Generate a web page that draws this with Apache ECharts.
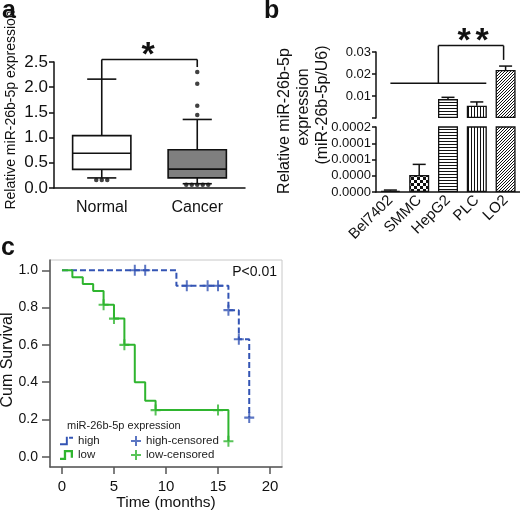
<!DOCTYPE html>
<html>
<head>
<meta charset="utf-8">
<script src="https://cdn.jsdelivr.net/npm/echarts@6.0.0/dist/echarts.min.js"></script>
<style>
html,body{margin:0;padding:0;background:#fff;}
#chart{width:520px;height:516px;}
</style>
</head>
<body>
<div id="chart"></div>
<script>
// ---------------- Panel a : box plot ----------------
const boxCategories = ['Normal', 'Cancer'];
// [lower whisker, Q1, median, Q3, upper whisker]
const normalBox = [0.20, 0.37, 0.69, 1.04, 2.16];
const cancerBox = [0.085, 0.20, 0.375, 0.76, 1.36];
const normalOutliers = [0.16, 0.16, 0.16];
const cancerOutliers = [2.30, 2.07, 1.63, 1.45, 0.065, 0.065, 0.065, 0.065, 0.065];
// significance bracket: top, left leg end, right leg end
const sigA = [2.55, 2.16, 2.40];

// ---------------- Panel b : bar chart with broken axis ----------------
const cellLines = ['Bel7402', 'SMMC', 'HepG2', 'PLC', 'LO2'];
const cellMeans = [0.000004, 0.000052, 0.0086, 0.0056, 0.0218];
const cellErrors = [0.000002, 0.000033, 0.0008, 0.0017, 0.0018];
const upperTickLabels = ['', '0.01', '0.02', '0.03'];
const lowerTickLabels = ['0.0000', '0.0000', '0.0001', '0.0001', '0.0002'];
// group line value, bracket top, LO2 leg end
const sigB = [0.0158, 0.0329, 0.0264];

// ---------------- Panel c : Kaplan-Meier ----------------
const highCurve = [[0, 1], [11, 0.917], [16, 0.786], [17, 0.63], [18, 0.21]];
const lowCurve = [[0, 1], [1, 0.963], [2, 0.926], [3, 0.889], [4, 0.815], [5, 0.741], [6, 0.6], [7, 0.4], [8, 0.3], [9, 0.25], [16, 0.083]];
const highCensored = [[7, 1], [8, 1], [12, 0.917], [14, 0.917], [15, 0.917], [16, 0.786], [17, 0.63], [18, 0.21]];
const lowCensored = [[4, 0.815], [5, 0.741], [6, 0.6], [9, 0.25], [15, 0.25], [16, 0.083]];
const timeTicks = [0, 5, 10, 15, 20];
const survivalTicks = [0, 0.2, 0.4, 0.6, 0.8, 1.0];

// ---------------- styling ----------------
const FONT = "'Liberation Sans', Arial, Helvetica, sans-serif";
const INK = '#111';
const BLUE = '#3354b4';
const GREEN = '#2fb52f';
const LOWER_MAX = 0.0002;
const boxFills = ['#ffffff', '#7f7f7f'];
const patternKinds = ['solid', 'check', 'h', 'v', 'd'];
const PLUS = 'path://M4,0h2v10h-2z M0,4h10v2h-10z';
const HIGH_ICON = 'path://M0,11h9v-10h3v13h-12z M14,1h6v3h-6z';
const LOW_ICON = 'path://M0,11h5v-10h12v10h-3v-7h-6v10h-8z';

function makePattern(kind) {
  if (kind === 'solid') return INK;
  const c = document.createElement('canvas');
  const ctx = c.getContext('2d');
  if (kind === 'check') {
    c.width = c.height = 6;
    ctx.fillStyle = '#fff'; ctx.fillRect(0, 0, 6, 6);
    ctx.fillStyle = INK; ctx.fillRect(0, 0, 3, 3); ctx.fillRect(3, 3, 3, 3);
  } else if (kind === 'h') {
    c.width = c.height = 3;
    ctx.fillStyle = '#fff'; ctx.fillRect(0, 0, 3, 3);
    ctx.fillStyle = INK; ctx.fillRect(0, 0, 3, 1);
  } else if (kind === 'v') {
    c.width = c.height = 3;
    ctx.fillStyle = '#fff'; ctx.fillRect(0, 0, 3, 3);
    ctx.fillStyle = INK; ctx.fillRect(0, 0, 1, 3);
  } else {
    c.width = c.height = 3;
    ctx.fillStyle = '#fff'; ctx.fillRect(0, 0, 3, 3);
    ctx.fillStyle = INK; ctx.fillRect(0, 2, 1, 1); ctx.fillRect(1, 1, 1, 1); ctx.fillRect(2, 0, 1, 1);
  }
  return { image: c, repeat: 'repeat' };
}

function txt(text, x, y, size, o) {
  o = o || {};
  const align = o.align || 'center', va = o.va || 'middle';
  return {
    type: 'text', x: x, y: y, rotation: o.rot || 0, z: 100,
    style: {
      text: text, fill: o.color || INK,
      font: (o.bold ? 'bold ' : '') + size + 'px ' + FONT,
      align: align, verticalAlign: va, textAlign: align, textVerticalAlign: va
    }
  };
}

// outlier points with horizontal spreading of identical values
function outlierPoints(cat, values) {
  const counts = {}, seen = {};
  values.forEach(v => { counts[v] = (counts[v] || 0) + 1; });
  return values.map(v => {
    const k = seen[v] = (seen[v] || 0) + 1;
    const n = counts[v];
    const off = (k - 1 - (n - 1) / 2) * 5.5;
    return { value: [cat, v], symbolOffset: [off, 0] };
  });
}

function line(x1, y1, x2, y2, w, color) {
  return { type: 'line', shape: { x1, y1, x2, y2 }, style: { stroke: color || INK, lineWidth: w || 1.5 } };
}

function boxItem(params, api) {
  const idx = api.value(0);
  const lo = api.value(1), q1 = api.value(2), med = api.value(3), q3 = api.value(4), hi = api.value(5);
  const band = api.size([1, 0])[0];
  const bw = band * 0.61, cw = bw * 0.5;
  const x = api.coord([idx, 0])[0];
  const y = v => api.coord([idx, v])[1];
  return {
    type: 'group', children: [
      line(x, y(q3), x, y(hi), 1.6),
      line(x - cw / 2, y(hi), x + cw / 2, y(hi), 1.6),
      line(x, y(q1), x, y(lo), 1.6),
      line(x - cw / 2, y(lo), x + cw / 2, y(lo), 1.6),
      { type: 'rect', shape: { x: x - bw / 2, y: y(q3), width: bw, height: y(q1) - y(q3) },
        style: { fill: boxFills[idx], stroke: INK, lineWidth: 1.6 } },
      line(x - bw / 2, y(med), x + bw / 2, y(med), 1.6)
    ]
  };
}

function errItem(section) {
  return function (params, api) {
    const i = api.value(0), m = api.value(1), e = api.value(2);
    if ((section === 'upper' && m <= LOWER_MAX) || (section === 'lower' && m > LOWER_MAX)) {
      return { type: 'group', children: [] };
    }
    const p0 = api.coord([i, m]), p1 = api.coord([i, m + e]);
    const hw = 6.5;
    return { type: 'group', children: [
      line(p0[0], p0[1], p1[0], p1[1], 1.5),
      line(p1[0] - hw, p1[1], p1[0] + hw, p1[1], 1.5)
    ] };
  };
}

const errData = cellMeans.map((m, i) => [i, m, cellErrors[i]]);
const axisBlack = { lineStyle: { color: INK, width: 1.5 } };

const option = {
  animation: false,
  backgroundColor: '#fff',
  grid: [
    { left: 54, top: 62, width: 191, height: 126, outerBoundsMode: 'none' },
    { left: 376, top: 52, width: 144, height: 66, outerBoundsMode: 'none' },
    { left: 376, top: 127, width: 144, height: 65, outerBoundsMode: 'none' },
    { left: 50, top: 260, width: 232, height: 207, outerBoundsMode: 'none',
      show: true, borderColor: '#c8c8c8', borderWidth: 1 }
  ],
  xAxis: [
    { gridIndex: 0, type: 'category', data: boxCategories,
      axisLine: axisBlack, axisTick: { alignWithLabel: true, length: 5, lineStyle: { color: INK, width: 1.5 } },
      axisLabel: { color: INK, fontSize: 16, fontFamily: FONT, margin: 12 } },
    { gridIndex: 1, type: 'category', data: cellLines, show: false },
    { gridIndex: 2, type: 'category', data: cellLines,
      axisLine: axisBlack, axisTick: { alignWithLabel: true, length: 4, lineStyle: { color: INK, width: 1.5 } },
      axisLabel: { color: INK, fontSize: 15, fontFamily: FONT, rotate: 45, margin: 6, interval: 0 } },
    { gridIndex: 3, type: 'value', min: -1.15, max: 21.15,
      axisLine: { onZero: false, lineStyle: { color: '#555', width: 1.5 } },
      axisTick: { customValues: timeTicks, length: 7, lineStyle: { color: '#555', width: 1.5 } },
      axisLabel: { customValues: timeTicks, color: INK, fontSize: 15, fontFamily: FONT, margin: 12 },
      splitLine: { show: false } }
  ],
  yAxis: [
    { gridIndex: 0, type: 'value', min: 0, max: 2.5, interval: 0.5,
      axisLine: { show: true, lineStyle: { color: INK, width: 1.5 } },
      axisTick: { show: true, length: 5, lineStyle: { color: INK, width: 1.5 } },
      axisLabel: { color: INK, fontSize: 17, fontFamily: FONT, margin: 6, formatter: v => v.toFixed(1) },
      splitLine: { show: false } },
    { gridIndex: 1, type: 'value', min: 0, max: 0.03, interval: 0.01,
      axisLine: { show: true, lineStyle: { color: INK, width: 1.5 } },
      axisTick: { show: true, length: 4, lineStyle: { color: INK, width: 1.5 } },
      axisLabel: { color: INK, fontSize: 13, fontFamily: FONT, margin: 5, formatter: (v, i) => upperTickLabels[i] },
      splitLine: { show: false } },
    { gridIndex: 2, type: 'value', min: 0, max: LOWER_MAX, interval: 0.00005,
      axisLine: { show: true, lineStyle: { color: INK, width: 1.5 } },
      axisTick: { show: true, length: 4, lineStyle: { color: INK, width: 1.5 } },
      axisLabel: { color: INK, fontSize: 13, fontFamily: FONT, margin: 5, formatter: (v, i) => lowerTickLabels[i] },
      splitLine: { show: false } },
    { gridIndex: 3, type: 'value', min: -0.055, max: 1.055,
      axisLine: { show: true, onZero: false, lineStyle: { color: '#555', width: 1.5 } },
      axisTick: { show: true, customValues: survivalTicks, length: 8, lineStyle: { color: '#555', width: 1.5 } },
      axisLabel: { customValues: survivalTicks, color: INK, fontSize: 14, fontFamily: FONT, margin: 12, formatter: v => v.toFixed(1) },
      splitLine: { show: false } }
  ],
  legend: [
    { left: 60, top: 435, orient: 'vertical', itemWidth: 13, itemHeight: 10, itemGap: 2, padding: 0,
      selectedMode: false, textStyle: { fontSize: 11.5, color: '#222', fontFamily: FONT },
      data: [ { name: 'high', icon: HIGH_ICON, itemStyle: { color: BLUE } },
              { name: 'low', icon: LOW_ICON, itemStyle: { color: GREEN } } ] },
    { left: 131, top: 435, orient: 'vertical', itemWidth: 10, itemHeight: 10, itemGap: 2, padding: 0,
      selectedMode: false, textStyle: { fontSize: 11.5, color: '#222', fontFamily: FONT },
      data: ['high-censored', 'low-censored'] }
  ],
  series: [
    // panel a
    { type: 'custom', xAxisIndex: 0, yAxisIndex: 0, renderItem: boxItem,
      encode: { x: 0, y: [1, 2, 3, 4, 5] },
      data: [[0].concat(normalBox), [1].concat(cancerBox)] },
    { type: 'scatter', xAxisIndex: 0, yAxisIndex: 0, symbol: 'circle', symbolSize: 4.5,
      itemStyle: { color: INK }, silent: true,
      data: outlierPoints(0, normalOutliers).concat(outlierPoints(1, cancerOutliers)) },
    { type: 'custom', xAxisIndex: 0, yAxisIndex: 0, encode: { x: 0, y: 2 },
      data: [[0, 1, sigA[0], sigA[1], sigA[2]]],
      renderItem: (params, api) => {
        const a = api.coord([api.value(0), api.value(2)]);
        const b = api.coord([api.value(1), api.value(2)]);
        const la = api.coord([api.value(0), api.value(3)]);
        const rb = api.coord([api.value(1), api.value(4)]);
        return { type: 'group', children: [
          line(a[0], la[1], a[0], a[1], 1.6), line(a[0], a[1], b[0], b[1], 1.6), line(b[0], b[1], b[0], rb[1], 1.6)
        ] };
      } },
    // panel b
    { type: 'bar', xAxisIndex: 1, yAxisIndex: 1, barWidth: 20,
      itemStyle: { borderColor: INK, borderWidth: 1.3 },
      data: cellMeans.map((v, i) => v > LOWER_MAX ? { value: v, itemStyle: { color: makePattern(patternKinds[i]) } } : '-') },
    { type: 'bar', xAxisIndex: 2, yAxisIndex: 2, barWidth: 20,
      itemStyle: { borderColor: INK, borderWidth: 1.3 },
      data: cellMeans.map((v, i) => ({ value: v, itemStyle: { color: makePattern(patternKinds[i]) } })) },
    { type: 'custom', xAxisIndex: 1, yAxisIndex: 1, renderItem: errItem('upper'), encode: { x: 0, y: 1 }, data: errData, z: 5 },
    { type: 'custom', xAxisIndex: 2, yAxisIndex: 2, renderItem: errItem('lower'), encode: { x: 0, y: 1 }, data: errData, z: 5 },
    { type: 'custom', xAxisIndex: 1, yAxisIndex: 1, encode: { x: 0, y: 1 },
      data: [[0, sigB[0], 3, 4, sigB[1], sigB[2]]],
      renderItem: (params, api) => {
        const band = api.size([1, 0])[0];
        const yLine = api.coord([0, api.value(1)])[1];
        const yTop = api.coord([0, api.value(4)])[1];
        const yLeg = api.coord([0, api.value(5)])[1];
        const xa = api.coord([api.value(0), 0])[0];
        const xb = api.coord([api.value(2), 0])[0] + band * 0.33;
        const xm = (xa + xb) / 2;
        const xr = api.coord([api.value(3), 0])[0] - 2;
        return { type: 'group', children: [
          line(xa, yLine, xb, yLine, 1.5), line(xm, yLine, xm, yTop, 1.5),
          line(xm, yTop, xr, yTop, 1.5), line(xr, yTop, xr, yLeg, 1.5)
        ] };
      } },
    // panel c
    { type: 'line', name: 'high', xAxisIndex: 3, yAxisIndex: 3, data: highCurve, step: 'end',
      symbol: 'none', lineStyle: { color: BLUE, width: 2, type: [6, 3] }, itemStyle: { color: BLUE } },
    { type: 'line', name: 'low', xAxisIndex: 3, yAxisIndex: 3, data: lowCurve, step: 'end',
      symbol: 'none', lineStyle: { color: GREEN, width: 2 }, itemStyle: { color: GREEN } },
    { type: 'scatter', name: 'high-censored', xAxisIndex: 3, yAxisIndex: 3, data: highCensored,
      symbol: PLUS, symbolSize: [10, 11], itemStyle: { color: BLUE }, z: 4 },
    { type: 'scatter', name: 'low-censored', xAxisIndex: 3, yAxisIndex: 3, data: lowCensored,
      symbol: PLUS, symbolSize: [10, 11], itemStyle: { color: GREEN }, z: 4 }
  ],
  graphic: [
    txt('a', 2, 11, 25, { bold: true, align: 'left' }),
    txt('b', 264, 11, 25, { bold: true, align: 'left' }),
    txt('c', 1, 248, 25, { bold: true, align: 'left' }),
    txt('Relative miR-26b-5p expression', 11, 110, 14, { rot: Math.PI / 2 }),
    txt('*', 148, 56, 34, { bold: true }),
    txt('Relative miR-26b-5p', 285, 121, 16, { rot: Math.PI / 2 }),
    txt('expression', 304, 107, 16, { rot: Math.PI / 2 }),
    txt('(miR-26b-5p/U6)', 323, 105, 16, { rot: Math.PI / 2 }),
    txt('*', 464, 42, 34, { bold: true }),
    txt('*', 482, 42, 34, { bold: true }),
    txt('Cum Survival', 8, 360, 16, { rot: Math.PI / 2 }),
    txt('Time (months)', 166, 503, 15.5),
    txt('P<0.01', 277, 272, 14, { align: 'right' }),
    txt('miR-26b-5p expression', 67, 426, 11, { align: 'left', color: '#222' })
  ]
};

const chart = echarts.init(document.getElementById('chart'), null, { renderer: 'canvas' });
chart.setOption(option);
</script>
</body>
</html>
